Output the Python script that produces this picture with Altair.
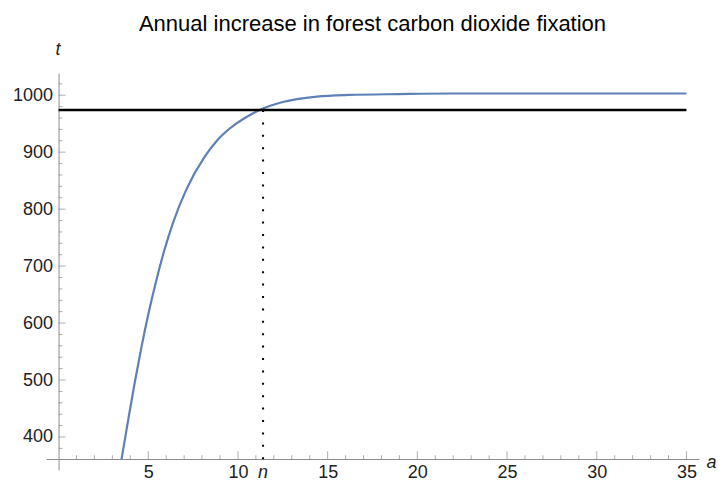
import altair as alt
import pandas as pd

# ---- data ----
curve_x = [3.51, 3.92, 4.25, 4.63, 5.0, 5.44, 5.88, 6.38, 7.1, 8.12, 8.85, 9.9,
           10.6, 11.2, 12.5, 14.4, 16.2, 19.0, 22.0, 28.0, 35.0]
curve_y = [361, 437, 496, 559, 615, 674, 726, 776, 833, 891, 921, 950,
           964, 974, 988, 997.5, 1000.5, 1002, 1003, 1003, 1003]
threshold = 974
n_x = 11.4
line_x_start, line_x_end = 0, 35
x_major = [5, 10, 15, 20, 25, 30, 35]
x_minor = [i for i in range(1, 36) if i % 5]
y_major = [400, 500, 600, 700, 800, 900, 1000]
y_minor = [v for v in range(380, 1021, 20) if v % 100]
x_domain = [-0.7, 35.7]
y_domain = [342, 1039]
x_axis_at = 361   # y value where the horizontal axis crosses
y_axis_at = 0     # x value where the vertical axis crosses

title_text = "Annual increase in forest carbon dioxide fixation"

FONT = "Liberation Sans"
AX = "#8c8c8c"
LAB = "#222222"

xs = alt.Scale(domain=x_domain, nice=False, zero=False)
ys = alt.Scale(domain=y_domain, nice=False, zero=False)

x_axis = alt.Axis(values=x_major, format="d", grid=False, ticks=False, tickSize=0,
                  domain=True, domainColor=AX, domainWidth=1, offset=-11,
                  labelFont=FONT, labelFontSize=18, labelColor=LAB, labelPadding=4.5,
                  labelFlush=False, labelOverlap=False,
                  title="a", titleFont=FONT, titleFontSize=18, titleFontStyle="italic",
                  titleFontWeight="normal", titleColor=LAB, titleX=660, titleY=8,
                  titleAlign="left", titleBaseline="alphabetic", titleAngle=0)
y_axis = alt.Axis(values=y_major, format="d", grid=False, ticks=False, tickSize=0,
                  domain=True, domainColor=AX, domainWidth=1, offset=-12.56,
                  labelFont=FONT, labelFontSize=18, labelColor=LAB, labelPadding=6,
                  labelFlush=False, labelOverlap=False,
                  title="t", titleFont=FONT, titleFontSize=18, titleFontStyle="italic",
                  titleFontWeight="normal", titleColor=LAB, titleX=-1, titleY=-19,
                  titleAlign="center", titleBaseline="alphabetic", titleAngle=0)

curve_df = pd.DataFrame({"x": curve_x, "y": curve_y})
curve = alt.Chart(curve_df).mark_line(color="#5E81B5", strokeWidth=2.2,
                                      interpolate="monotone", clip=True).encode(
    x=alt.X("x:Q", scale=xs, axis=x_axis),
    y=alt.Y("y:Q", scale=ys, axis=y_axis),
)

xt_major = alt.Chart(pd.DataFrame({"x": x_major})).mark_tick(
    orient="vertical", size=8, thickness=1, color=AX, yOffset=-4).encode(
    x=alt.X("x:Q", scale=xs), y=alt.datum(x_axis_at))
xt_minor = alt.Chart(pd.DataFrame({"x": x_minor})).mark_tick(
    orient="vertical", size=4, thickness=1, color=AX, yOffset=-2).encode(
    x=alt.X("x:Q", scale=xs), y=alt.datum(x_axis_at))
yt_major = alt.Chart(pd.DataFrame({"y": y_major})).mark_tick(
    orient="horizontal", size=7, thickness=1, color=AX, xOffset=3.5).encode(
    y=alt.Y("y:Q", scale=ys), x=alt.datum(y_axis_at))
yt_minor = alt.Chart(pd.DataFrame({"y": y_minor})).mark_tick(
    orient="horizontal", size=4, thickness=1, color=AX, xOffset=2).encode(
    y=alt.Y("y:Q", scale=ys), x=alt.datum(y_axis_at))

hline = alt.Chart(pd.DataFrame({"x": [line_x_start], "x2": [line_x_end], "y": [threshold]})).mark_rule(
    color="black", strokeWidth=2.5).encode(
    x=alt.X("x:Q", scale=xs), x2="x2:Q", y=alt.Y("y:Q", scale=ys))

vline = alt.Chart(pd.DataFrame({"x": [n_x], "y": [x_axis_at], "y2": [threshold]})).mark_rule(
    color="black", strokeWidth=2, strokeDash=[2, 10.4]).encode(
    x=alt.X("x:Q", scale=xs), y=alt.Y("y:Q", scale=ys), y2="y2:Q")

n_label = alt.Chart(pd.DataFrame({"x": [n_x], "y": [x_axis_at], "t": ["n"]})).mark_text(
    font=FONT, fontSize=18, fontStyle="italic", color=LAB, baseline="top",
    align="center", dy=4.5).encode(
    x=alt.X("x:Q", scale=xs), y=alt.Y("y:Q", scale=ys), text="t:N")

chart = alt.layer(curve, xt_major, xt_minor, yt_major, yt_minor, hline, vline, n_label).properties(
    width=653, height=397,
    title=alt.TitleParams(title_text, font=FONT, fontSize=22, fontWeight="normal",
                          color="black", anchor="middle", frame="group",
                          baseline="alphabetic", offset=11, dy=24),
    autosize=alt.AutoSizeParams(type="none"),
    padding={"left": 46, "top": 73, "right": 19, "bottom": 12},
    background="white",
).configure_view(stroke=None)

chart.save("out.html", embed_options={"renderer": "svg", "actions": False})
